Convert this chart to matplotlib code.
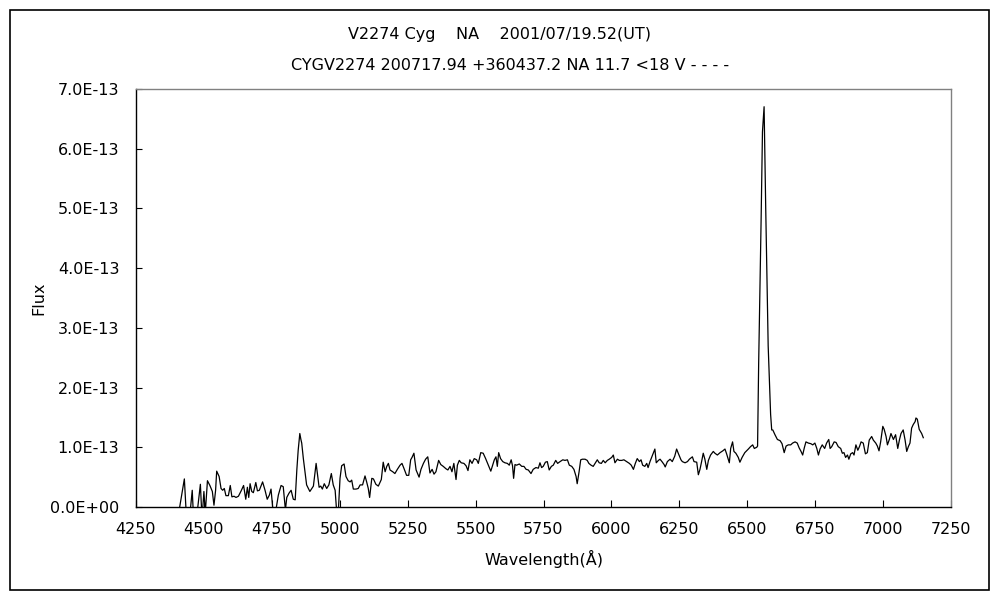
"""V2274 Cyg spectrum, 2001/07/19.52 UT"""

import numpy as np
import matplotlib.pyplot as plt
from matplotlib.patches import Rectangle
from matplotlib.ticker import FuncFormatter, MultipleLocator

plt.rcParams['font.family'] = ['DejaVu Sans', 'Noto Sans CJK JP']

# wavelength in Angstrom, flux in units of 1e-13 (values below 0 are clipped by the axis)
wavelength = [
    4409, 4428, 4436, 4449, 4457, 4462, 4475, 4487, 4493, 4500, 4505, 4513,
    4522, 4531, 4537, 4543, 4547, 4556, 4563, 4569, 4575, 4581, 4590, 4597,
    4603, 4611, 4618, 4627, 4637, 4646, 4654, 4660, 4665, 4670, 4676, 4682,
    4691, 4697, 4704, 4716, 4725, 4733, 4741, 4747, 4755, 4765, 4774, 4784,
    4792, 4800, 4805, 4813, 4821, 4829, 4836, 4842, 4847, 4853, 4857, 4860,
    4866, 4872, 4878, 4890, 4903, 4913, 4919, 4924, 4930, 4936, 4943, 4952,
    4960, 4969, 4976, 4983, 4989, 4995, 5001, 5007, 5016, 5023, 5031, 5038,
    5044, 5050, 5060, 5068, 5075, 5084, 5093, 5099, 5105, 5110, 5118, 5124,
    5133, 5142, 5153, 5160, 5167, 5173, 5179, 5185, 5195, 5203, 5212, 5222,
    5229, 5236, 5246, 5254, 5261, 5266, 5273, 5281, 5292, 5299, 5308, 5316,
    5324, 5332, 5340, 5347, 5354, 5364, 5372, 5381, 5391, 5398, 5406, 5413,
    5420, 5428, 5433, 5440, 5447, 5457, 5465, 5472, 5479, 5487, 5495, 5504,
    5510, 5519, 5528, 5537, 5547, 5556, 5563, 5569, 5575, 5580, 5585, 5592,
    5600, 5608, 5617, 5624, 5631, 5636, 5640, 5645, 5651, 5661, 5670, 5678,
    5686, 5694, 5704, 5712, 5722, 5731, 5737, 5743, 5749, 5757, 5764, 5771,
    5779, 5786, 5795, 5802, 5811, 5821, 5829, 5838, 5845, 5854, 5862, 5870,
    5874, 5881, 5887, 5893, 5903, 5911, 5917, 5925, 5933, 5940, 5948, 5955,
    5963, 5970, 5977, 5985, 5992, 6001, 6007, 6013, 6022, 6029, 6038, 6046,
    6056, 6066, 6073, 6081, 6088, 6095, 6103, 6109, 6115, 6123, 6130, 6135,
    6142, 6148, 6154, 6160, 6165, 6173, 6179, 6186, 6194, 6198, 6206, 6216,
    6224, 6233, 6240, 6246, 6256, 6261, 6271, 6280, 6287, 6298, 6304, 6314,
    6320, 6326, 6332, 6338, 6344, 6351, 6357, 6365, 6375, 6381, 6390, 6400,
    6410, 6418, 6424, 6434, 6439, 6446, 6451, 6458, 6467, 6473, 6481, 6491,
    6504, 6512, 6520, 6526, 6535, 6538, 6542, 6551, 6556, 6562, 6568, 6577,
    6586, 6590, 6594, 6602, 6611, 6621, 6628, 6636, 6643, 6651, 6660, 6667,
    6676, 6684, 6691, 6698, 6704, 6710, 6716, 6725, 6734, 6741, 6749, 6756,
    6762, 6768, 6776, 6785, 6792, 6800, 6805, 6811, 6820, 6827, 6835, 6844,
    6850, 6856, 6862, 6869, 6874, 6881, 6888, 6893, 6900, 6907, 6913, 6919,
    6927, 6935, 6942, 6949, 6958, 6964, 6973, 6979, 6985, 6991, 6999, 7004,
    7011, 7016, 7023, 7029, 7038, 7046, 7054, 7060, 7066, 7074, 7081, 7087,
    7093, 7099, 7105, 7111, 7118, 7121, 7126, 7133, 7142, 7148,
]
flux = [
    -0.05, 0.47, -0.2, -0.1, 0.28, -0.2, -0.1, 0.38, -0.2, 0.26, -0.1, 0.44,
    0.36, 0.26, 0.03, 0.28, 0.60, 0.51, 0.31, 0.28, 0.31, 0.19, 0.19, 0.36,
    0.17, 0.18, 0.16, 0.18, 0.27, 0.36, 0.13, 0.33, 0.16, 0.39, 0.26, 0.24,
    0.41, 0.27, 0.28, 0.42, 0.28, 0.13, 0.20, 0.30, -0.1, -0.05, 0.20, 0.36,
    0.34, -0.05, 0.16, 0.23, 0.28, 0.13, 0.12, 0.62, 0.95, 1.23, 1.13, 1.07,
    0.81, 0.59, 0.37, 0.26, 0.35, 0.73, 0.51, 0.33, 0.35, 0.30, 0.39, 0.31,
    0.37, 0.56, 0.37, 0.28, -0.1, -0.05, 0.48, 0.69, 0.72, 0.51, 0.44, 0.42,
    0.45, 0.30, 0.30, 0.31, 0.37, 0.37, 0.52, 0.42, 0.31, 0.16, 0.48, 0.47,
    0.38, 0.35, 0.46, 0.75, 0.59, 0.68, 0.73, 0.62, 0.59, 0.56, 0.63, 0.70,
    0.73, 0.65, 0.53, 0.53, 0.79, 0.83, 0.90, 0.62, 0.50, 0.63, 0.73, 0.80,
    0.84, 0.57, 0.63, 0.55, 0.59, 0.78, 0.71, 0.68, 0.64, 0.62, 0.68, 0.59,
    0.73, 0.46, 0.70, 0.78, 0.74, 0.73, 0.69, 0.61, 0.79, 0.73, 0.81, 0.79,
    0.73, 0.91, 0.90, 0.81, 0.70, 0.60, 0.70, 0.79, 0.84, 0.68, 0.91, 0.81,
    0.76, 0.74, 0.73, 0.70, 0.79, 0.69, 0.48, 0.71, 0.70, 0.72, 0.68, 0.68,
    0.63, 0.62, 0.56, 0.63, 0.66, 0.65, 0.74, 0.66, 0.68, 0.75, 0.76, 0.62,
    0.68, 0.70, 0.78, 0.73, 0.76, 0.79, 0.78, 0.79, 0.70, 0.68, 0.63, 0.51,
    0.39, 0.59, 0.79, 0.80, 0.80, 0.78, 0.73, 0.70, 0.68, 0.73, 0.79, 0.74,
    0.73, 0.78, 0.74, 0.78, 0.80, 0.83, 0.87, 0.74, 0.80, 0.78, 0.78, 0.79,
    0.76, 0.73, 0.70, 0.63, 0.73, 0.81, 0.76, 0.79, 0.70, 0.68, 0.73, 0.66,
    0.76, 0.83, 0.90, 0.97, 0.74, 0.78, 0.80, 0.76, 0.71, 0.67, 0.76, 0.80,
    0.76, 0.85, 0.97, 0.90, 0.79, 0.76, 0.74, 0.76, 0.80, 0.84, 0.76, 0.75,
    0.54, 0.63, 0.76, 0.90, 0.80, 0.63, 0.78, 0.87, 0.93, 0.90, 0.87, 0.91,
    0.94, 0.97, 0.89, 0.74, 0.98, 1.09, 0.93, 0.90, 0.83, 0.75, 0.83, 0.91,
    0.97, 1.01, 1.04, 0.98, 1.00, 1.02, 2.40, 4.80, 6.28, 6.70, 5.00, 2.70,
    1.55, 1.29, 1.29, 1.21, 1.13, 1.11, 1.06, 0.91, 1.02, 1.04, 1.04, 1.07,
    1.09, 1.07, 0.99, 0.93, 0.87, 0.99, 1.09, 1.07, 1.06, 1.04, 1.07, 0.98,
    0.87, 0.97, 1.04, 0.98, 1.07, 1.13, 0.98, 1.01, 1.09, 1.08, 1.01, 0.98,
    0.90, 0.91, 0.83, 0.87, 0.80, 0.89, 0.91, 0.87, 1.04, 0.95, 1.01, 1.09,
    1.07, 0.89, 0.91, 1.12, 1.18, 1.12, 1.07, 1.02, 0.94, 1.09, 1.35, 1.30,
    1.18, 1.04, 1.13, 1.23, 1.13, 1.21, 0.98, 1.12, 1.23, 1.29, 1.12, 0.93,
    1.01, 1.07, 1.32, 1.38, 1.43, 1.49, 1.47, 1.30, 1.23, 1.16,
]

title_line1 = "V2274 Cyg    NA    2001/07/19.52(UT)"
title_line2 = "CYGV2274 200717.94 +360437.2 NA 11.7 <18 V - - - -"

fig = plt.figure(figsize=(10, 6), dpi=100)
ax = fig.add_axes([0.136, 0.155, 0.815, 0.697])

ax.plot(wavelength, np.array(flux) * 1e-13, color="black", lw=0.9)

ax.set_xlim(4250, 7250)
ax.set_ylim(0, 7e-13)
ax.xaxis.set_major_locator(MultipleLocator(250))
ax.yaxis.set_major_locator(MultipleLocator(1e-13))
ax.yaxis.set_major_formatter(FuncFormatter(lambda v, p: f"{v:.1E}"))
ax.tick_params(axis="x", direction="in", length=5, width=0.8, pad=11, labelsize=11.5)
ax.tick_params(axis="y", direction="in", length=4, width=0.8, pad=12, labelsize=11.5)

for side in ["left", "bottom"]:
    ax.spines[side].set_color("black")
    ax.spines[side].set_linewidth(1.0)
for side in ["top", "right"]:
    ax.spines[side].set_color("#808080")
    ax.spines[side].set_linewidth(1.0)

ax.set_xlabel("Wavelength(Å)", fontsize=11.5, labelpad=9)
ax.set_ylabel("Flux", fontsize=11.5, labelpad=3)

fig.text(0.500, 1 - 35 / 600, title_line1, ha="center", va="center", fontsize=11.5)
fig.text(0.510, 1 - 66 / 600, title_line2, ha="center", va="center", fontsize=11.5)

# outer chart frame
fig.patches.append(Rectangle((0.010, 0.017), 0.979, 0.966, transform=fig.transFigure,
                             fill=False, edgecolor="black", lw=1.2))

fig.savefig("out.png", dpi=100)
